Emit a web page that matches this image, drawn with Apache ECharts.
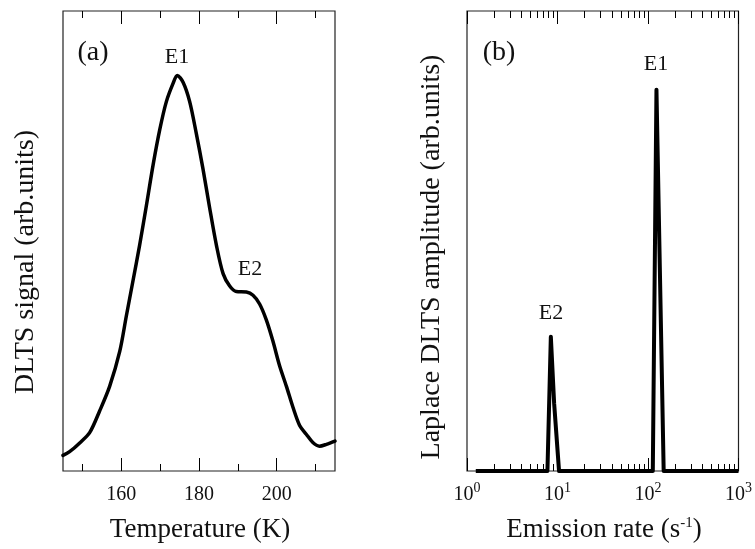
<!DOCTYPE html>
<html>
<head>
<meta charset="utf-8">
<script src="https://cdn.jsdelivr.net/npm/echarts@6/dist/echarts.min.js"></script>
<style>html,body{margin:0;padding:0;background:#fff}#c{width:755px;height:549px}</style>
</head>
<body>
<div id="c"></div>
<script>
// Panel (a): conventional DLTS spectrum
var tempA = [145.0,146.7,149.3,151.9,154.4,157.0,159.6,161.3,163.0,164.7,166.4,168.2,169.9,171.6,173.3,174.4,175.9,177.6,179.3,181.0,182.7,184.5,186.2,187.9,189.6,192.2,193.9,195.6,197.3,199.0,200.7,202.5,204.2,205.9,207.6,209.3,211.0,212.8,215.0];
var signalA = [3.4,4.2,6.1,8.4,13.0,18.4,26.0,33.7,41.3,49.0,57.4,66.6,74.2,80.3,84.2,86.0,84.5,80.3,73.4,65.8,57.4,49.0,42.9,40.2,39.0,38.9,38.2,36.3,32.9,28.3,23.0,18.4,13.8,9.9,8.0,6.2,5.4,5.8,6.5];
var tempMajorTicks = [160,180,200];
var tempMinorTicks = [150,170,190,210];

// Panel (b): Laplace DLTS
var rateB = [1.25,7.74,8.44,9.18,10.4,113,124,149,1000];
var ampB  = [0,0,29.2,14.7,0,0,82.9,0,0];
var decadeExps = [0,1,2,3];
var minorMultipliers = [2,3,4,5,6,7,8,9];

var FONT = '"Liberation Serif", "Times New Roman", serif';
var minorLog = [];
for (var d = 0; d < 3; d++) minorMultipliers.forEach(function(m){ minorLog.push(Math.log10(m) + d); });

function tickAxis(grid, pos, min, max, values, len, labels, extra) {
  var ax = {
    type: 'value', gridIndex: grid, position: pos, min: min, max: max,
    axisLine: {show: false}, splitLine: {show: false},
    axisTick: {show: true, inside: true, length: len, customValues: values, lineStyle: {color: '#000', width: 1}},
    axisLabel: {show: false}
  };
  if (labels) ax.axisLabel = labels;
  return ax;
}

var labelA = {show: true, customValues: tempMajorTicks, margin: 14, color: '#111', fontFamily: FONT, fontSize: 20};
var labelB = {show: true, customValues: decadeExps, margin: 10, color: '#111', fontFamily: FONT,
  formatter: function(v){ return '{a|10}{s|' + Math.round(v) + '}'; },
  rich: {a: {fontSize: 20, fontFamily: FONT, color: '#111'}, s: {fontSize: 14, fontFamily: FONT, color: '#111', padding: [0,0,14,0]}}
};

var chart = echarts.init(document.getElementById('c'), null, {renderer: 'canvas'});
chart.setOption({
  animation: false,
  backgroundColor: '#fff',
  grid: [
    {left: 63, top: 11, width: 272, height: 460, show: true, borderColor: '#222', borderWidth: 1.2},
    {left: 467, top: 11, width: 274, height: 460, show: true, borderColor: '#222', borderWidth: 1.2}
  ],
  xAxis: [
    tickAxis(0, 'bottom', 145, 215, tempMajorTicks, 13, labelA),
    tickAxis(0, 'bottom', 145, 215, tempMinorTicks, 7),
    tickAxis(0, 'top', 145, 215, tempMajorTicks, 13),
    tickAxis(0, 'top', 145, 215, tempMinorTicks, 7),
    {type: 'log', logBase: 10, gridIndex: 1, min: 1, max: 1000, show: false},
    tickAxis(1, 'bottom', 0, 3, decadeExps, 13, labelB),
    tickAxis(1, 'bottom', 0, 3, minorLog, 7),
    tickAxis(1, 'top', 0, 3, decadeExps, 13),
    tickAxis(1, 'top', 0, 3, minorLog, 7)
  ],
  yAxis: [
    {type: 'value', gridIndex: 0, min: 0, max: 100, show: false},
    {type: 'value', gridIndex: 1, min: 0, max: 100, show: false}
  ],
  series: [
    {type: 'line', xAxisIndex: 0, yAxisIndex: 0, showSymbol: false, smooth: 0.3,
     data: tempA.map(function(t,i){ return [t, signalA[i]]; }),
     lineStyle: {color: '#000', width: 3.5, join: 'round', cap: 'round'}},
    {type: 'line', xAxisIndex: 4, yAxisIndex: 1, showSymbol: false, clip: false,
     data: rateB.map(function(r,i){ return [r, ampB[i]]; }),
     lineStyle: {color: '#000', width: 4, join: 'round', cap: 'butt'}}
  ],
  graphic: [
    {type: 'text', x: 200, y: 530, style: {text: 'Temperature (K)', font: '27px ' + FONT, fill: '#111', align: 'center', verticalAlign: 'middle'}},
    {type: 'text', x: 26, y: 262, rotation: Math.PI/2, style: {text: 'DLTS signal (arb.units)', font: '28px ' + FONT, fill: '#111', align: 'center', verticalAlign: 'middle'}},
    {type: 'text', x: 604, y: 530, style: {text: '{t|Emission rate (s}{s|-1}{t|)}', font: '27px ' + FONT, fill: '#111', align: 'center', verticalAlign: 'middle',
      rich: {t: {fontSize: 27, fontFamily: FONT, fill: '#111'}, s: {fontSize: 15, fontFamily: FONT, fill: '#111', padding: [0,0,14,0]}}}},
    {type: 'text', x: 432, y: 257, rotation: Math.PI/2, style: {text: 'Laplace DLTS amplitude (arb.units)', font: '28px ' + FONT, fill: '#111', align: 'center', verticalAlign: 'middle'}},
    {type: 'text', x: 93, y: 53, style: {text: '(a)', font: '28px ' + FONT, fill: '#111', align: 'center', verticalAlign: 'middle'}},
    {type: 'text', x: 177, y: 57, style: {text: 'E1', font: '22px ' + FONT, fill: '#111', align: 'center', verticalAlign: 'middle'}},
    {type: 'text', x: 250, y: 269, style: {text: 'E2', font: '22px ' + FONT, fill: '#111', align: 'center', verticalAlign: 'middle'}},
    {type: 'text', x: 499, y: 53, style: {text: '(b)', font: '28px ' + FONT, fill: '#111', align: 'center', verticalAlign: 'middle'}},
    {type: 'text', x: 656, y: 64, style: {text: 'E1', font: '22px ' + FONT, fill: '#111', align: 'center', verticalAlign: 'middle'}},
    {type: 'text', x: 551, y: 313, style: {text: 'E2', font: '22px ' + FONT, fill: '#111', align: 'center', verticalAlign: 'middle'}}
  ]
});
</script>
</body>
</html>
